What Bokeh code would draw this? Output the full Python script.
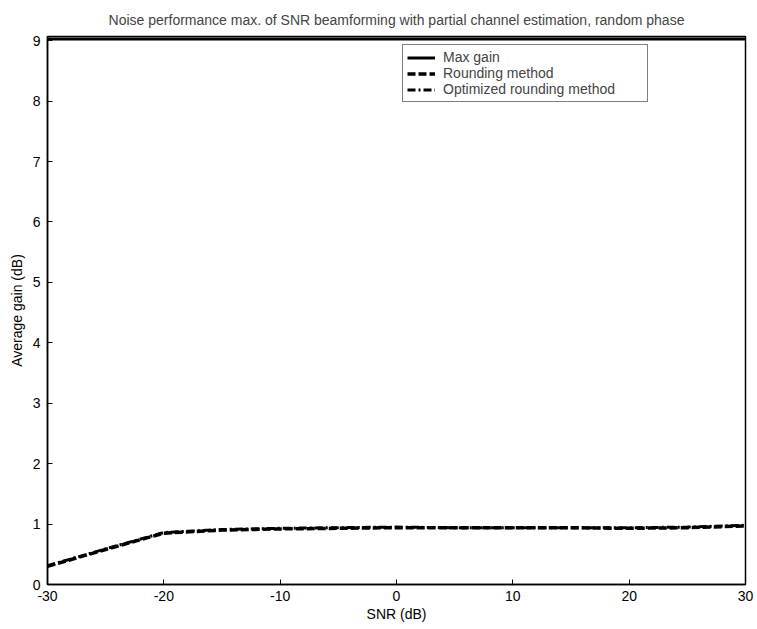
from bokeh.plotting import figure
from bokeh.models import Range1d, FixedTicker, Legend, LegendItem
from bokeh.embed import file_html
from bokeh.resources import INLINE

snr = [-30, -25, -20, -15, -10, -5, 0, 5, 10, 15, 20, 25, 30]
max_gain = [9.03, 9.03, 9.03, 9.03, 9.03, 9.03, 9.03, 9.03, 9.03, 9.03, 9.03, 9.03, 9.03]
rounding = [0.30, 0.58, 0.85, 0.90, 0.92, 0.93, 0.94, 0.94, 0.94, 0.94, 0.93, 0.94, 0.97]
optimized = [0.31, 0.59, 0.86, 0.91, 0.93, 0.94, 0.95, 0.94, 0.94, 0.94, 0.94, 0.95, 0.98]
x_ticks = [-30, -20, -10, 0, 10, 20, 30]
x_tick_labels = ["-30", "-20", "-10", "0", "10", "20", "30"]
y_ticks = [0, 1, 2, 3, 4, 5, 6, 7, 8, 9]

FONT = "Liberation Sans"

p = figure(width=757, height=629, output_backend="svg", toolbar_location=None,
           x_range=Range1d(-30, 30), y_range=Range1d(0, 9.07),
           min_border_left=47, min_border_right=12, min_border_top=36, min_border_bottom=45)
p.title.text = "Noise performance max. of SNR beamforming with partial channel estimation, random phase"
p.title.align = "center"
p.title.offset = 15
p.title.text_font = FONT
p.title.text_font_size = "14px"
p.title.text_font_style = "normal"
p.title.standoff = 18

p.grid.visible = False
p.outline_line_color = "black"
p.outline_line_width = 1.5

for ax in (p.xaxis[0], p.yaxis[0]):
    ax.major_tick_in = 5
    ax.major_tick_out = 0
    ax.minor_tick_in = 0
    ax.minor_tick_out = 0
    ax.axis_line_color = "black"
    ax.axis_line_width = 1.5
    ax.major_tick_line_color = "black"
    ax.major_label_text_font = FONT
    ax.major_label_text_font_size = "14px"
    ax.major_label_text_color = "black"
    ax.axis_label_text_font = FONT
    ax.axis_label_text_font_size = "14px"
    ax.axis_label_text_font_style = "normal"
    ax.axis_label_text_color = "black"

p.xaxis.ticker = FixedTicker(ticks=x_ticks)
p.xaxis.major_label_overrides = dict(zip(x_ticks, x_tick_labels))
p.yaxis.ticker = FixedTicker(ticks=y_ticks)
p.xaxis.axis_label = "SNR (dB)"
p.yaxis.axis_label = "Average gain (dB)"
p.xaxis.major_label_standoff = 6
p.yaxis.major_label_standoff = 7
p.xaxis.axis_label_standoff = 2
p.yaxis.axis_label_standoff = 5

r1 = p.line(snr, max_gain, line_color="black", line_width=3)
r2 = p.line(snr, rounding, line_color="black", line_width=3.5, line_dash="8 3")
r3 = p.line(snr, optimized, line_color="black", line_width=3, line_dash="8 3 2 3")

legend = Legend(items=[
    LegendItem(label="Max gain", renderers=[r1]),
    LegendItem(label="Rounding method", renderers=[r2]),
    LegendItem(label="Optimized rounding method", renderers=[r3]),
], location=(355, 482))
legend.border_line_color = "black"
legend.border_line_width = 1
legend.background_fill_color = "white"
legend.background_fill_alpha = 1
legend.label_text_font = FONT
legend.label_text_font_size = "14px"
legend.label_height = 15
legend.glyph_height = 15
legend.glyph_width = 28
legend.spacing = 0
legend.padding = 4
legend.margin = 0
legend.label_standoff = 8
legend.label_width = 200
p.add_layout(legend, "center")

open("out.html", "w").write(file_html(p, INLINE))
